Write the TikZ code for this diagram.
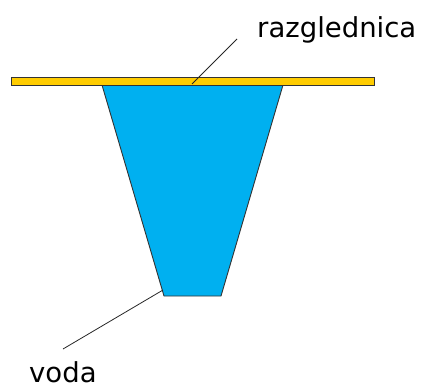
\documentclass[tikz,border=0pt]{standalone}
\usepackage{fontspec}
\setmainfont{DejaVu Sans}
\definecolor{plate}{HTML}{FFCC00}
\definecolor{water}{HTML}{00B0F0}
\definecolor{edge}{HTML}{333333}
\begin{document}
\begin{tikzpicture}[x=1pt,y=-1pt,
  shapeedge/.style={draw=edge,line width=0.9pt,line join=miter},
  leader/.style={draw=black!85,line width=0.8pt},
  lbl/.style={inner sep=0pt,anchor=base west,font=\fontsize{27.5}{32}\selectfont}]
\useasboundingbox (0,0) rectangle (426,388);
% water (trapezoid)
\path[shapeedge,fill=water] (102,85) coordinate (wtl) -- (283,85) coordinate (wtr)
  -- (221,296) coordinate (wbr) -- (164,296) coordinate (wbl) -- cycle;
% postcard
\path[shapeedge,fill=plate] (11,77) rectangle (374,85);
% labels
\node[lbl] (razg) at (257,37) {razglednica};
\node[lbl] (voda) at (29,382) {voda};
\coordinate (rA) at (192,84);
\coordinate (rB) at (237,39);
\coordinate (vA) at (163,290);
\coordinate (vB) at (63,349);
\draw[leader] (rA) -- (rB);
\draw[leader] (vA) -- (vB);
\end{tikzpicture}
\end{document}
